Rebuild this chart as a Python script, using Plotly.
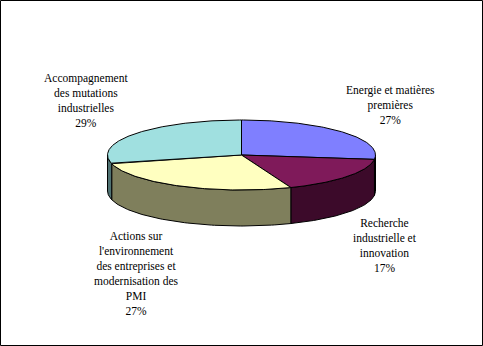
import numpy as np
import plotly.graph_objects as go

# ---- data ----
categories = ["Energie et matières premières",
              "Recherche industrielle et innovation",
              "Actions sur l'environnement des entreprises et modernisation des PMI",
              "Accompagnement des mutations industrielles"]
label_texts = ["Energie et matières<br>premières<br>27%",
               "Recherche<br>industrielle et<br>innovation<br>17%",
               "Actions sur<br>l'environnement<br>des entreprises et<br>modernisation des<br>PMI<br>27%",
               "Accompagnement<br>des mutations<br>industrielles<br>29%"]
values = [27, 17, 27, 29]

# ---- style / layout ----
top_colors = ["#7F7FFF", "#7F1A5A", "#FFFFC0", "#A0E0E0"]
side_colors = ["#40407F", "#3C0A2A", "#7F7F5C", "#4F7272"]
label_pos = [(390, 105), (385, 245), (136, 273), (86, 100)]

W, H = 483, 346
cx, cy, rx, ry, depth = 241.5, 155, 134, 35, 36


def pt(theta_deg, dy=0.0):
    t = np.radians(theta_deg)
    return cx + rx * np.sin(t), cy - ry * np.cos(t) + dy


fig = go.Figure()
total = sum(values)
starts, ends = [], []
acc = 0.0
for v in values:
    starts.append(acc / total * 360)
    acc += v
    ends.append(acc / total * 360)

# side walls (front half only: 90..270 deg clockwise from top)
for i in range(len(values)):
    a = max(starts[i], 90)
    b = min(ends[i], 270)
    if b <= a:
        continue
    th = np.linspace(a, b, 80)
    xs_t, ys_t = pt(th)
    xs_b, ys_b = pt(th[::-1], depth)
    xs = np.concatenate([xs_t, xs_b, xs_t[:1]])
    ys = np.concatenate([ys_t, ys_b, ys_t[:1]])
    fig.add_trace(go.Scatter(x=xs, y=ys, mode="lines", fill="toself",
                             fillcolor=side_colors[i],
                             line=dict(color="black", width=1),
                             hoverinfo="skip", showlegend=False))

# top faces
for i in range(len(values)):
    th = np.linspace(starts[i], ends[i], 120)
    xs_a, ys_a = pt(th)
    xs = np.concatenate([[cx], xs_a, [cx]])
    ys = np.concatenate([[cy], ys_a, [cy]])
    fig.add_trace(go.Scatter(x=xs, y=ys, mode="lines", fill="toself",
                             fillcolor=top_colors[i],
                             line=dict(color="black", width=1),
                             name=categories[i],
                             hoverinfo="name", showlegend=False))

for txt, (x, y) in zip(label_texts, label_pos):
    fig.add_annotation(x=x, y=y, text=txt, showarrow=False,
                       xanchor="center", yanchor="middle", align="center",
                       font=dict(family="Liberation Serif",
                                 size=11.5, color="black"))

fig.add_shape(type="rect", x0=0.5, y0=0.5, x1=W - 0.5, y1=H - 0.5,
              line=dict(color="black", width=1), fillcolor="rgba(0,0,0,0)")

fig.update_layout(
    width=W, height=H,
    margin=dict(l=0, r=0, t=0, b=0),
    paper_bgcolor="white", plot_bgcolor="white",
    xaxis=dict(range=[0, W], visible=False, fixedrange=True),
    yaxis=dict(range=[H, 0], visible=False, fixedrange=True),
)

fig.write_html("out.html")
